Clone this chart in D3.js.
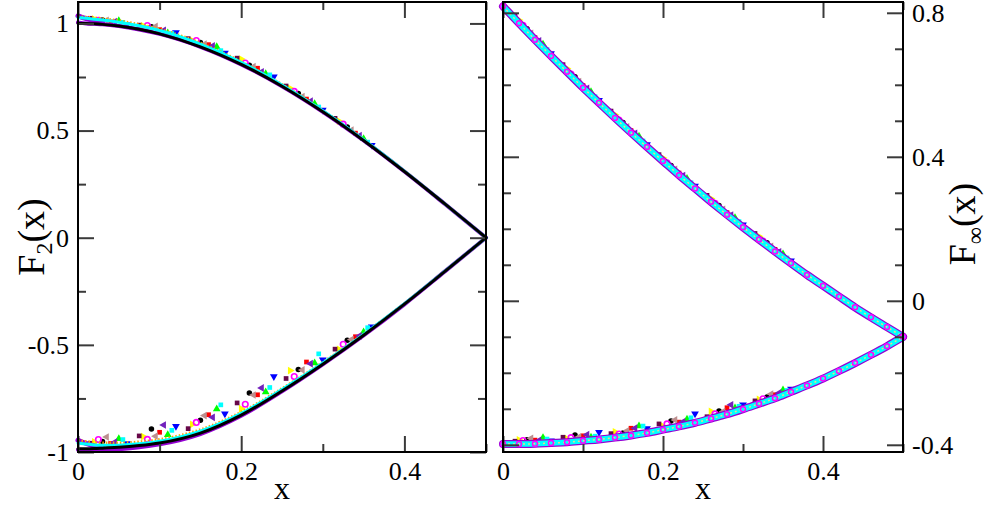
<!DOCTYPE html>
<html><head><meta charset="utf-8">
<script src="https://cdn.jsdelivr.net/npm/d3@7"></script>
<style>body{margin:0;background:#fff}svg{display:block}
text{font-family:"Liberation Serif","Times New Roman","DejaVu Serif",serif !important;}</style>
</head><body>
<svg id="c" width="988" height="506"></svg>
<script>
// ---------- DATA ----------
// tick values
const leftXMajor = [0, 0.2, 0.4];
const leftXMinor = [0.1, 0.3, 0.5];
const leftYMajor = [-1, -0.5, 0, 0.5, 1];
const leftYMinor = [-0.75, -0.25, 0.25, 0.75];
const rightXMajor = [0, 0.2, 0.4];
const rightXMinor = [0.1, 0.3, 0.5];
const rightYMajor = [-0.4, 0, 0.4, 0.8];
const rightYMinor = [-0.3, -0.2, -0.1, 0.1, 0.2, 0.3, 0.5, 0.6, 0.7];

// left panel (F2) curve grid
const leftGridX = [0, 0.01, 0.02, 0.03, 0.05, 0.075, 0.1, 0.15, 0.2, 0.25, 0.3, 0.35, 0.4, 0.45, 0.5];
const leftUpperBlack = [1, 0.9995, 0.998, 0.9956, 0.9877, 0.9724, 0.9511, 0.891, 0.809, 0.7071, 0.5878, 0.454, 0.309, 0.1564, 0];
const leftLowerBlack = [-0.985, -0.985, -0.984, -0.982, -0.978, -0.970, -0.958, -0.912, -0.828, -0.715, -0.59, -0.455, -0.31, -0.156, 0];
const leftUpperViolet = [1.005, 1.0, 0.998, 0.996, 0.988, 0.972, 0.951, 0.891, 0.809, 0.707, 0.588, 0.454, 0.309, 0.156, 0];
const leftUpperCyan = [1.028, 1.024, 1.02, 1.016, 1.006, 0.989, 0.967, 0.903, 0.818, 0.713, 0.592, 0.457, 0.311, 0.157, 0];
const leftUpperOrange = [1.032, 1.03, 1.027, 1.023, 1.013, 0.996, 0.974, 0.909, 0.822, 0.716, 0.594, 0.458, 0.312, 0.157, 0];
const leftLowerViolet = [-0.99, -0.992, -0.993, -0.992, -0.987, -0.978, -0.964, -0.916, -0.831, -0.717, -0.591, -0.456, -0.311, -0.156, 0];
const leftLowerCyan = [-0.958, -0.963, -0.967, -0.969, -0.968, -0.962, -0.95, -0.903, -0.82, -0.708, -0.585, -0.451, -0.308, -0.155, 0];
const leftLowerOrange = [-0.945, -0.95, -0.955, -0.957, -0.957, -0.952, -0.941, -0.895, -0.813, -0.703, -0.581, -0.449, -0.306, -0.154, 0];
const wedgeX = [0, 0.01, 0.02, 0.03];
const leftUpperWedge = [1.035, 1.022, 1.012, 1.004];
const leftLowerWedge = [-0.945, -0.96, -0.972, -0.98];

// right panel (Finf) curve grid
const rightGridX = [0, 0.02, 0.04, 0.06, 0.08, 0.1, 0.12, 0.14, 0.16, 0.18, 0.2, 0.22, 0.24, 0.26, 0.28, 0.3, 0.32, 0.34, 0.36, 0.38, 0.4, 0.42, 0.44, 0.46, 0.48, 0.5];
const rightUpperVals = [0.818, 0.771, 0.725, 0.680, 0.636, 0.592, 0.550, 0.508, 0.467, 0.427, 0.388, 0.349, 0.312, 0.275, 0.239, 0.204, 0.170, 0.137, 0.104, 0.072, 0.042, 0.012, -0.018, -0.046, -0.073, -0.1];
const rightLowerVals = [-0.398, -0.398, -0.397, -0.395, -0.393, -0.389, -0.385, -0.380, -0.374, -0.367, -0.358, -0.349, -0.339, -0.327, -0.315, -0.301, -0.286, -0.271, -0.253, -0.235, -0.216, -0.195, -0.173, -0.150, -0.126, -0.1];

// scattered simulation points (10 series)
const markX = [
  [0.03, 0.09, 0.15, 0.21, 0.27, 0.33],
  [0.04, 0.10, 0.16, 0.22, 0.28, 0.34],
  [0.05, 0.11, 0.17, 0.23, 0.29, 0.35],
  [0.06, 0.12, 0.18, 0.24, 0.30, 0.36],
  [0.02, 0.08, 0.14, 0.20, 0.26, 0.32],
  [0.035, 0.095, 0.155, 0.215, 0.275, 0.335],
  [0.045, 0.105, 0.165, 0.225, 0.285, 0.345],
  [0.055, 0.115, 0.175, 0.235, 0.295, 0.355],
  [0.025, 0.085, 0.145, 0.205, 0.265, 0.325],
  [0.015, 0.075, 0.135, 0.195, 0.255, 0.315]
];
const leftUpperMarks = [
  [1.016, 0.985, 0.911, 0.805, 0.673, 0.517],
  [1.007, 0.971, 0.901, 0.791, 0.647, 0.488],
  [1.013, 0.956, 0.891, 0.765, 0.625, 0.462],
  [0.994, 0.958, 0.862, 0.751, 0.596, 0.432],
  [1.020, 0.989, 0.920, 0.834, 0.697, 0.544],
  [1.014, 0.986, 0.904, 0.798, 0.659, 0.502],
  [1.008, 0.968, 0.895, 0.774, 0.637, 0.476],
  [1.005, 0.953, 0.873, 0.760, 0.610, 0.446],
  [1.015, 0.990, 0.920, 0.815, 0.683, 0.530],
  [1.024, 0.992, 0.929, 0.838, 0.708, 0.557]
];
const leftLowerMarks = [
  [-0.951, -0.893, -0.852, -0.725, -0.615, -0.479],
  [-0.960, -0.908, -0.826, -0.733, -0.580, -0.462],
  [-0.938, -0.919, -0.799, -0.720, -0.585, -0.440],
  [-0.960, -0.880, -0.822, -0.648, -0.570, -0.416],
  [-0.953, -0.928, -0.871, -0.798, -0.620, -0.521],
  [-0.930, -0.926, -0.830, -0.734, -0.617, -0.475],
  [-0.954, -0.874, -0.838, -0.701, -0.588, -0.458],
  [-0.942, -0.899, -0.780, -0.699, -0.542, -0.420],
  [-0.942, -0.941, -0.862, -0.777, -0.648, -0.497],
  [-0.959, -0.925, -0.891, -0.771, -0.657, -0.520]
];
const rightUpperMarks = [
  [0.756, 0.622, 0.495, 0.376, 0.265, 0.161],
  [0.731, 0.598, 0.473, 0.355, 0.245, 0.143],
  [0.713, 0.581, 0.457, 0.340, 0.231, 0.130],
  [0.687, 0.557, 0.434, 0.319, 0.211, 0.111],
  [0.780, 0.645, 0.517, 0.397, 0.284, 0.179],
  [0.743, 0.609, 0.483, 0.365, 0.254, 0.151],
  [0.722, 0.590, 0.465, 0.348, 0.238, 0.136],
  [0.698, 0.567, 0.444, 0.328, 0.220, 0.119],
  [0.765, 0.630, 0.502, 0.383, 0.271, 0.166],
  [0.792, 0.656, 0.527, 0.406, 0.293, 0.187]
];
const rightLowerMarks = [
  [-0.386, -0.373, -0.367, -0.334, -0.306, -0.267],
  [-0.387, -0.375, -0.354, -0.337, -0.297, -0.261],
  [-0.380, -0.379, -0.348, -0.329, -0.298, -0.248],
  [-0.389, -0.365, -0.355, -0.314, -0.289, -0.245],
  [-0.386, -0.383, -0.364, -0.348, -0.307, -0.274],
  [-0.382, -0.378, -0.361, -0.331, -0.308, -0.259],
  [-0.388, -0.372, -0.354, -0.336, -0.289, -0.256],
  [-0.384, -0.376, -0.348, -0.325, -0.293, -0.249],
  [-0.388, -0.380, -0.370, -0.342, -0.314, -0.272],
  [-0.390, -0.379, -0.369, -0.342, -0.322, -0.278]
];

// ---------- STYLE ----------
const FONT = '"Liberation Serif","Times New Roman","DejaVu Serif",serif';
const markStyles = [
  {c: '#000000', s: 'circle'},
  {c: '#ff0000', s: 'square'},
  {c: '#00ff00', s: 'up'},
  {c: '#0000ff', s: 'down'},
  {c: '#ffff00', s: 'right'},
  {c: '#bc8f8f', s: 'left'},
  {c: '#7221bc', s: 'left'},
  {c: '#00ffff', s: 'square'},
  {c: '#ff00ff', s: 'ring'},
  {c: '#670748', s: 'square'}
];

const svg = d3.select('#c');
const xL = d3.scaleLinear().domain([0, 0.5]).range([78, 486]);
const yL = d3.scaleLinear().domain([-1, 1.1]).range([452, 2]);
const xR = d3.scaleLinear().domain([0, 0.5]).range([503, 903]);
const yR = d3.scaleLinear().domain([-0.42, 0.83]).range([452, 2]);

function drawLine(g, x, y, xs, ys, color, width, dash) {
  const line = d3.line().x((d, i) => x(xs[i])).y(d => y(d)).curve(d3.curveMonotoneX);
  g.append('path').attr('d', line(ys)).attr('fill', 'none')
    .attr('stroke', color).attr('stroke-width', width)
    .attr('stroke-linecap', dash ? 'butt' : 'round').attr('stroke-linejoin', 'round')
    .attr('stroke-dasharray', dash || null);
}

function drawMarks(g, x, y, xs2, ys2) {
  ys2.forEach((row, i) => {
    const st = markStyles[i];
    row.forEach((v, j) => {
      const px = x(xs2[i][j]), py = y(v);
      let type = d3.symbolTriangle, rot = 0, size = 26;
      if (st.s === 'circle' || st.s === 'ring') { type = d3.symbolCircle; size = 24; }
      if (st.s === 'square') { type = d3.symbolSquare; size = 22; }
      if (st.s === 'down') rot = 180;
      if (st.s === 'right') rot = 90;
      if (st.s === 'left') rot = -90;
      const p = g.append('path').attr('d', d3.symbol().type(type).size(size)())
        .attr('transform', `translate(${px},${py}) rotate(${rot})`);
      if (st.s === 'ring') p.attr('fill', 'none').attr('stroke', st.c).attr('stroke-width', 1.6);
      else p.attr('fill', st.c).attr('stroke', 'none');
    });
  });
}

function styleAxis(g) {
  g.attr('font-family', null);
  g.select('.domain').remove();
  g.selectAll('.tick line').attr('stroke', '#3a3a3a').attr('stroke-width', 2);
  g.selectAll('.tick text').style('font-family', FONT).attr('font-size', 26).attr('fill', '#000');
}

function frameAxes(x, y, xMaj, xMin, yMaj, yMin, labelSide) {
  const [x0, x1] = x.range();
  const [y0, y1] = y.range();
  const fmt = d => String(d);
  svg.append('g').attr('transform', `translate(0,${y0})`)
    .call(d3.axisBottom(x).tickValues(xMaj).tickSize(-16).tickPadding(10).tickFormat(fmt)).call(styleAxis);
  svg.append('g').attr('transform', `translate(0,${y0})`)
    .call(d3.axisBottom(x).tickValues(xMin).tickSize(-8).tickFormat('')).call(styleAxis);
  svg.append('g').attr('transform', `translate(0,${y1})`)
    .call(d3.axisTop(x).tickValues(xMaj).tickSize(-16).tickFormat('')).call(styleAxis);
  svg.append('g').attr('transform', `translate(0,${y1})`)
    .call(d3.axisTop(x).tickValues(xMin).tickSize(-8).tickFormat('')).call(styleAxis);
  svg.append('g').attr('transform', `translate(${x0},0)`)
    .call(d3.axisLeft(y).tickValues(yMaj).tickSize(-16).tickPadding(9).tickFormat(labelSide === 'left' ? fmt : '')).call(styleAxis);
  svg.append('g').attr('transform', `translate(${x0},0)`)
    .call(d3.axisLeft(y).tickValues(yMin).tickSize(-8).tickFormat('')).call(styleAxis);
  svg.append('g').attr('transform', `translate(${x1},0)`)
    .call(d3.axisRight(y).tickValues(yMaj).tickSize(-16).tickPadding(9).tickFormat(labelSide === 'right' ? fmt : '')).call(styleAxis);
  svg.append('g').attr('transform', `translate(${x1},0)`)
    .call(d3.axisRight(y).tickValues(yMin).tickSize(-8).tickFormat('')).call(styleAxis);
}

// ---------- LEFT PANEL ----------
const gL = svg.append('g');
drawMarks(gL, xL, yL, markX, leftUpperMarks);
drawMarks(gL, xL, yL, markX, leftLowerMarks);
drawLine(gL, xL, yL, wedgeX, leftUpperWedge, '#9400d3', 5);
drawLine(gL, xL, yL, wedgeX, leftLowerWedge, '#9400d3', 5);
drawLine(gL, xL, yL, leftGridX, leftUpperViolet, '#9400d3', 4);
drawLine(gL, xL, yL, leftGridX, leftLowerViolet, '#9400d3', 4);
drawLine(gL, xL, yL, leftGridX, leftUpperOrange, '#ffa500', 2.5, '1.5,2');
drawLine(gL, xL, yL, leftGridX, leftLowerOrange, '#ffa500', 2.5, '1.5,2');
drawLine(gL, xL, yL, leftGridX, leftUpperCyan, '#00ffff', 3);
drawLine(gL, xL, yL, leftGridX, leftLowerCyan, '#00ffff', 3);
drawLine(gL, xL, yL, leftGridX, leftUpperBlack, '#000', 3);
drawLine(gL, xL, yL, leftGridX, leftLowerBlack, '#000', 3);

// ---------- RIGHT PANEL ----------
const gR = svg.append('g');
drawMarks(gR, xR, yR, markX, rightUpperMarks);
drawMarks(gR, xR, yR, markX, rightLowerMarks);
[rightUpperVals, rightLowerVals].forEach(vals => {
  drawLine(gR, xR, yR, rightGridX, vals, '#000', 2);
  drawLine(gR, xR, yR, rightGridX, vals, '#9400d3', 8);
  drawLine(gR, xR, yR, rightGridX, vals, '#00ffff', 5.5);
  drawLine(gR, xR, yR, rightGridX, vals, '#e8d890', 1.5, '2,3');
  vals.forEach((v, i) => {
    gR.append('circle').attr('cx', xR(rightGridX[i])).attr('cy', yR(v)).attr('r', 2.5)
      .attr('fill', 'none').attr('stroke', '#ff00ff').attr('stroke-width', 1.5);
  });
});

// ---------- FRAMES & AXES ----------
frameAxes(xL, yL, leftXMajor, leftXMinor, leftYMajor, leftYMinor, 'left');
frameAxes(xR, yR, rightXMajor, rightXMinor, rightYMajor, rightYMinor, 'right');
svg.append('rect').attr('x', 78).attr('y', 2).attr('width', 408).attr('height', 450)
  .attr('fill', 'none').attr('stroke', '#000').attr('stroke-width', 2);
svg.append('rect').attr('x', 503).attr('y', 2).attr('width', 400).attr('height', 450)
  .attr('fill', 'none').attr('stroke', '#000').attr('stroke-width', 2);

// ---------- LABELS ----------
svg.append('text').attr('x', 282).attr('y', 499).attr('text-anchor', 'middle')
  .style('font-family', FONT).attr('font-size', 32).text('x');
svg.append('text').attr('x', 703).attr('y', 499).attr('text-anchor', 'middle')
  .style('font-family', FONT).attr('font-size', 32).text('x');

const ylab = svg.append('text').attr('transform', 'translate(44,237) rotate(-90)')
  .attr('text-anchor', 'middle').style('font-family', FONT).attr('font-size', 38);
ylab.append('tspan').text('F');
ylab.append('tspan').attr('font-size', 24).attr('dy', 8).text('2');
ylab.append('tspan').attr('dy', -8).text('(x)');

const ylabR = svg.append('text').attr('transform', 'translate(975,224) rotate(-90)')
  .attr('text-anchor', 'middle').style('font-family', FONT).attr('font-size', 38);
ylabR.append('tspan').text('F');
ylabR.append('tspan').attr('font-size', 24).attr('dy', 8).text('\u221E');
ylabR.append('tspan').attr('dy', -8).text('(x)');
</script></body></html>
